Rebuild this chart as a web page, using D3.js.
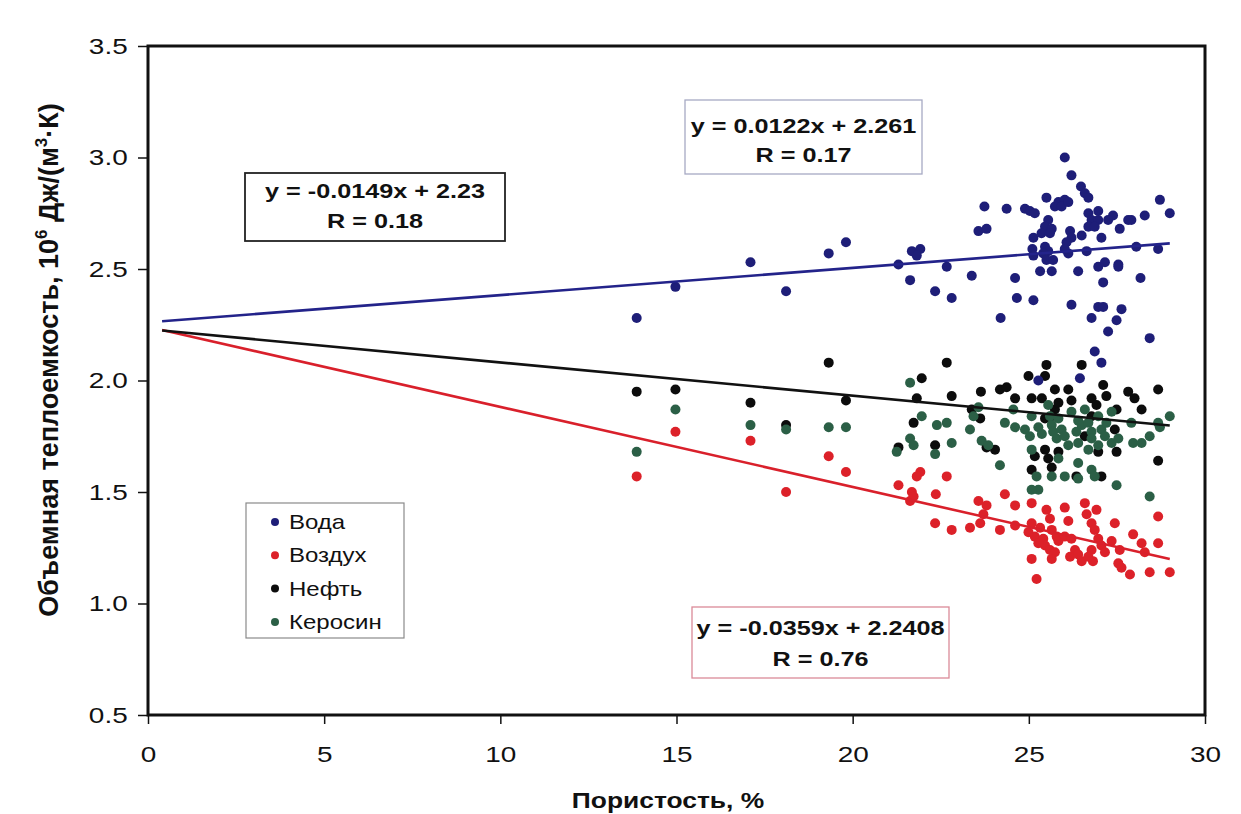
<!DOCTYPE html>
<html><head><meta charset="utf-8">
<script src="https://cdn.jsdelivr.net/npm/d3@7"></script>
<style>
html,body{margin:0;padding:0;background:#fff;}
svg{display:block;}
text{font-family:"Liberation Sans",Arial,sans-serif;fill:#111;}
</style></head>
<body>
<svg id="chart" width="1241" height="814"></svg>
<script>
// ---------- data ----------
const xTicks = [0, 5, 10, 15, 20, 25, 30];
const yTicks = [0.5, 1.0, 1.5, 2.0, 2.5, 3.0, 3.5];
const seriesNames = ["Вода", "Воздух", "Нефть", "Керосин"];
const seriesColors = ["#1e1e78", "#dc2129", "#0c0c0c", "#2b5f46"];

const water = [
[13.87,2.28],[14.97,2.42],[17.10,2.53],[18.11,2.40],[19.32,2.57],[19.81,2.62],
[21.30,2.52],[21.68,2.58],[21.92,2.59],[21.82,2.56],[22.67,2.51],[21.63,2.45],[22.34,2.40],[22.81,2.37],[23.38,2.47],
[23.74,2.78],[24.37,2.77],[23.57,2.67],[23.80,2.68],
[24.89,2.77],[25.03,2.76],[25.17,2.75],[25.50,2.82],
[25.84,2.80],[26.02,2.81],[25.74,2.78],[25.93,2.78],[26.12,2.80],
[26.02,3.00],[26.21,2.92],[26.48,2.87],[26.59,2.84],[26.69,2.82],
[25.55,2.72],[25.46,2.69],[25.65,2.68],[25.13,2.64],[25.36,2.66],[25.60,2.66],
[26.69,2.75],[26.97,2.76],[26.78,2.72],[26.69,2.69],[26.97,2.72],[26.87,2.69],
[27.39,2.74],[27.25,2.72],[27.58,2.68],[27.91,2.72],[27.82,2.72],[28.29,2.74],[28.72,2.81],[29.00,2.75],
[26.17,2.67],[26.21,2.64],[26.07,2.62],[26.50,2.65],[27.06,2.64],
[25.10,2.59],[25.13,2.56],[25.46,2.60],[25.55,2.58],[25.41,2.57],[26.12,2.57],[26.02,2.59],[26.64,2.58],
[25.50,2.54],[25.69,2.54],[25.65,2.49],[25.32,2.49],[26.40,2.49],
[26.97,2.51],[27.16,2.53],[27.54,2.52],[27.54,2.51],[27.11,2.44],[28.05,2.60],[28.67,2.59],[28.17,2.46],
[24.61,2.46],[24.66,2.37],[25.13,2.36],[24.20,2.28],[26.21,2.34],
[26.97,2.33],[27.11,2.33],[26.78,2.28],[27.63,2.32],[27.49,2.27],[27.25,2.22],[28.43,2.19],
[26.87,2.13],[27.06,2.08],[26.45,2.01],[25.27,2.00]
];
const air = [
[13.87,1.57],[14.97,1.77],[17.10,1.73],[18.11,1.50],[19.32,1.66],[19.81,1.59],
[21.30,1.53],[21.68,1.50],[21.63,1.46],[21.73,1.48],[21.92,1.59],[21.82,1.57],[22.67,1.57],[22.36,1.49],[22.34,1.36],[22.81,1.33],[23.33,1.34],
[23.57,1.46],[23.80,1.44],[23.71,1.40],[23.62,1.36],[24.18,1.33],[24.32,1.49],[24.61,1.44],[24.61,1.35],
[25.08,1.45],[25.08,1.36],[24.99,1.32],[25.17,1.30],[25.32,1.34],[25.41,1.29],[25.46,1.26],[25.27,1.27],
[25.50,1.42],[25.60,1.38],[25.65,1.33],[25.79,1.30],[25.84,1.28],[25.60,1.24],[25.74,1.23],[25.65,1.20],[25.08,1.20],[25.22,1.11],
[26.02,1.43],[26.12,1.37],[26.02,1.30],[26.21,1.29],[26.31,1.24],[26.17,1.21],[26.40,1.22],[26.50,1.19],
[26.59,1.45],[26.64,1.40],[26.78,1.36],[26.92,1.42],[26.87,1.33],[26.97,1.29],[26.78,1.24],[26.82,1.19],[26.69,1.21],[27.06,1.26],[27.16,1.23],
[27.44,1.36],[27.35,1.28],[27.58,1.24],[27.54,1.18],[27.63,1.16],[27.87,1.13],
[27.96,1.31],[28.20,1.27],[28.29,1.23],[28.67,1.39],[28.67,1.27],[28.43,1.14],[29.00,1.14]
];
const oil = [
[13.87,1.95],[14.97,1.96],[17.10,1.90],[18.11,1.80],[19.32,2.08],[19.81,1.91],
[22.67,2.08],[21.96,2.01],[21.82,1.92],[21.73,1.81],[21.30,1.70],[22.34,1.71],[22.81,1.93],
[23.38,1.87],[23.62,1.83],[23.64,1.95],[23.80,1.70],[24.04,1.69],[24.18,1.96],[24.37,1.97],[24.61,1.92],
[24.99,2.02],[25.08,1.92],[25.50,2.07],[25.46,2.02],[25.37,1.92],
[25.74,1.96],[25.74,1.87],[26.12,1.96],[26.21,1.91],[25.84,1.90],
[26.50,2.07],[26.78,1.92],[27.11,1.98],[27.20,1.93],[26.92,1.89],
[27.49,1.87],[27.82,1.95],[28.00,1.92],[28.20,1.87],[28.67,1.96],[28.67,1.64],
[25.46,1.69],[25.55,1.65],[25.17,1.66],[25.08,1.60],[25.65,1.61],[25.84,1.68],
[26.35,1.57],[26.97,1.68],[27.44,1.78],[27.49,1.68],[27.06,1.57],
[25.46,1.83],[25.65,1.84],[26.78,1.84],[26.59,1.75]
];
const kerosene = [
[13.87,1.68],[14.97,1.87],[17.10,1.80],[18.11,1.78],[19.32,1.79],[19.81,1.79],
[21.63,1.99],[21.96,1.84],[22.39,1.80],[22.67,1.81],[21.63,1.74],[21.73,1.71],[21.25,1.68],[22.34,1.67],[22.81,1.72],
[23.33,1.78],[23.66,1.73],[23.85,1.71],[23.57,1.88],[23.43,1.84],[24.32,1.81],[24.61,1.79],[24.56,1.87],[24.18,1.62],
[24.89,1.78],[25.08,1.84],[25.03,1.75],[25.27,1.79],[25.37,1.76],[25.08,1.69],[25.22,1.57],[25.27,1.51],
[25.55,1.89],[25.60,1.84],[25.65,1.80],[25.69,1.77],[25.84,1.83],[25.79,1.74],[25.93,1.78],[26.02,1.75],[26.12,1.71],
[25.84,1.65],[26.02,1.57],[25.65,1.57],
[26.21,1.86],[26.40,1.82],[26.59,1.87],[26.35,1.77],[26.50,1.80],[26.69,1.81],[26.78,1.77],[26.97,1.84],[27.06,1.78],[27.20,1.81],[27.35,1.86],
[26.40,1.72],[26.69,1.69],[26.78,1.74],[26.97,1.71],[27.16,1.75],[27.35,1.72],[27.54,1.74],
[26.40,1.63],[26.78,1.60],[26.87,1.57],[27.49,1.53],
[27.91,1.81],[27.96,1.72],[28.20,1.72],[28.43,1.75],[28.67,1.81],[29.00,1.84],[28.72,1.79],
[28.43,1.48],[25.08,1.51],[26.40,1.56]
];
// trend lines: [slope, intercept] for Вода, Воздух, Нефть
const trendSlopes = [0.0122, -0.0359, -0.0149];
const trendIntercepts = [2.261, 2.2408, 2.23];
const trendRange = [0.4, 29.0];
const eqLine1 = ["y = 0.0122x + 2.261", "y = -0.0359x + 2.2408", "y = -0.0149x + 2.23"];
const eqLine2 = ["R = 0.17", "R = 0.76", "R = 0.18"];

// ---------- layout ----------
const svg = d3.select("#chart");
const L = 148, R = 1205, T = 46, B = 715;
const x = d3.scaleLinear().domain([0, 30]).range([L, R]);
const y = d3.scaleLinear().domain([0.5, 3.5]).range([B, T]);
const SX = 1.27; // horizontal stretch of text in the scan

// axes
const yAxis = svg.append("g").attr("transform", `translate(${L},0)`)
  .call(d3.axisLeft(y).tickValues(yTicks).tickFormat(d3.format(".1f")).tickSize(10).tickPadding(6));
yAxis.select(".domain").remove();
yAxis.selectAll("line").attr("stroke", "#111").attr("stroke-width", 1.5);
yAxis.selectAll("text").attr("x", -16).attr("font-size", 22)
  .attr("font-family", "Liberation Sans, Arial, sans-serif")
  .attr("transform", `scale(${SX},1)`).attr("fill", "#111");

const xAxis = svg.append("g").attr("transform", `translate(0,${B})`)
  .call(d3.axisBottom(x).tickValues(xTicks).tickFormat(d3.format("d")).tickSize(9).tickPadding(6));
xAxis.select(".domain").remove();
xAxis.selectAll("line").attr("stroke", "#111").attr("stroke-width", 1.5);
xAxis.selectAll("text").attr("y", 47).attr("dy", 0).attr("font-size", 22)
  .attr("font-family", "Liberation Sans, Arial, sans-serif")
  .attr("transform", `scale(${SX},1)`).attr("fill", "#111");

// frame
svg.append("rect").attr("x", L).attr("y", T).attr("width", R - L).attr("height", B - T)
  .attr("fill", "none").attr("stroke", "#111").attr("stroke-width", 3);

// points
const allSeries = [water, air, oil, kerosene];
const drawOrder = [2, 3, 1, 0];
const pts = svg.append("g");
drawOrder.forEach(si => {
  pts.append("g").selectAll("circle").data(allSeries[si]).join("circle")
    .attr("cx", d => x(d[0])).attr("cy", d => y(d[1])).attr("r", 5)
    .attr("fill", seriesColors[si]);
});

// trend lines
const lineColors = ["#23238a", "#d9202b", "#111111"];
const lineGen = d3.line().x(d => x(d[0])).y(d => y(d[1]));
trendSlopes.forEach((k, i) => {
  const b = trendIntercepts[i];
  const seg = trendRange.map(v => [v, k * v + b]);
  svg.append("path").attr("d", lineGen(seg)).attr("fill", "none")
    .attr("stroke", lineColors[i]).attr("stroke-width", 2.6);
});

// equation boxes
const boxes = [
  {x0: 685, y0: 100, x1: 922, y1: 174, stroke: "#a7aac4", b1: 133, b2: 162},
  {x0: 692, y0: 607, x1: 949, y1: 678, stroke: "#db8a98", b1: 635, b2: 666},
  {x0: 245, y0: 173, x1: 505, y1: 241, stroke: "#222", b1: 198, b2: 228}
];
boxes.forEach((bx, i) => {
  svg.append("rect").attr("x", bx.x0).attr("y", bx.y0)
    .attr("width", bx.x1 - bx.x0).attr("height", bx.y1 - bx.y0)
    .attr("fill", "#fff").attr("stroke", bx.stroke).attr("stroke-width", i === 2 ? 1.8 : 1.3);
  const cx = (bx.x0 + bx.x1) / 2;
  [[eqLine1[i], bx.b1], [eqLine2[i], bx.b2]].forEach(([t, by]) => {
    svg.append("text").attr("transform", `translate(${cx},${by}) scale(1.2,1)`)
      .attr("text-anchor", "middle").attr("font-size", 21).attr("font-weight", "bold").text(t);
  });
});

// legend
svg.append("rect").attr("x", 246).attr("y", 503).attr("width", 158).attr("height", 135)
  .attr("fill", "#fff").attr("stroke", "#8a8a8a").attr("stroke-width", 1.2);
seriesNames.forEach((n, i) => {
  const ly = 522 + i * 33.3;
  svg.append("circle").attr("cx", 275).attr("cy", ly).attr("r", 4).attr("fill", seriesColors[i]);
  svg.append("text").attr("transform", `translate(289,${ly + 7}) scale(1.2,1)`)
    .attr("font-size", 20).text(n);
});

// axis titles
const yt = svg.append("text").attr("transform", "translate(58,360) rotate(-90)")
  .attr("text-anchor", "middle").attr("font-size", 27).attr("font-weight", "bold");
yt.append("tspan").text("Объемная теплоемкость, 10");
yt.append("tspan").attr("dy", -11).attr("font-size", 17).text("6");
yt.append("tspan").attr("dy", 11).text(" Дж/(м");
yt.append("tspan").attr("dy", -11).attr("font-size", 17).text("3");
yt.append("tspan").attr("dy", 11).text("·К)");

svg.append("text").attr("transform", "translate(668,808) scale(1.2,1)")
  .attr("text-anchor", "middle").attr("font-size", 22).attr("font-weight", "bold")
  .text("Пористость, %");
</script>
</body></html>
